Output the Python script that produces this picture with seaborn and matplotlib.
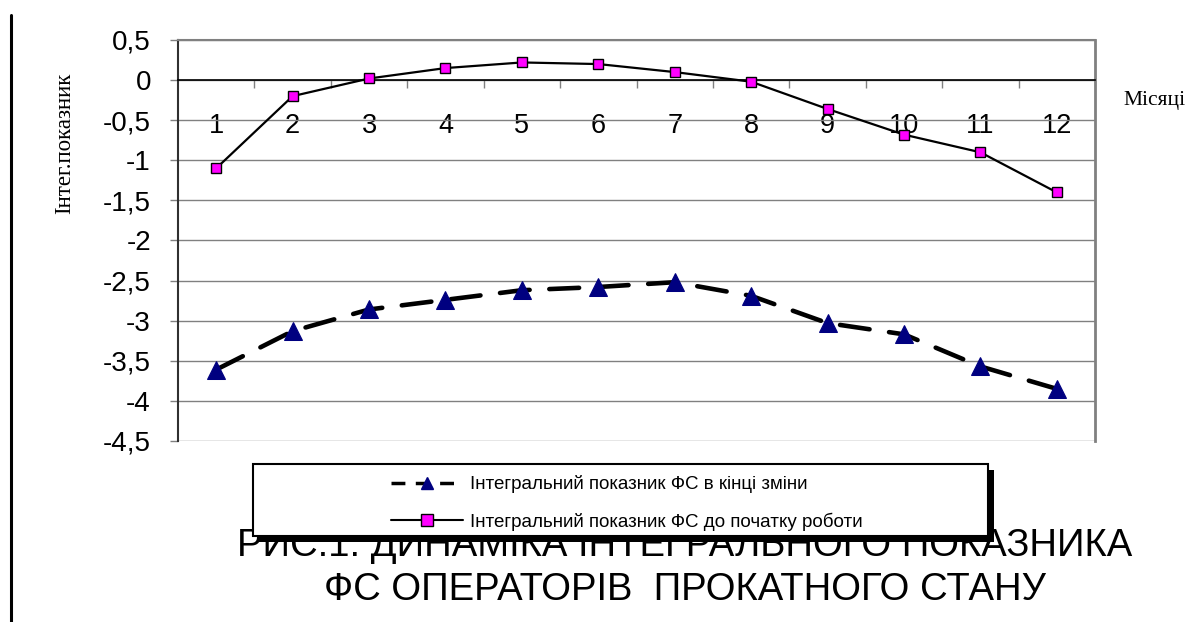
import matplotlib
matplotlib.use("Agg")
import numpy as np
import pandas as pd
import seaborn as sns
import matplotlib.pyplot as plt
from matplotlib.patches import Rectangle
from matplotlib.lines import Line2D

# ---------------- data ----------------
months = list(range(1, 13))
month_labels = [str(m) for m in months]
end_of_shift = [-3.61, -3.13, -2.86, -2.74, -2.62, -2.58, -2.52, -2.69, -3.03, -3.17, -3.57, -3.85]
before_work = [-1.10, -0.20, 0.02, 0.15, 0.22, 0.20, 0.10, -0.02, -0.36, -0.68, -0.90, -1.40]
ytick_values = [0.5, 0, -0.5, -1, -1.5, -2, -2.5, -3, -3.5, -4, -4.5]
ytick_labels = ["0,5", "0", "-0,5", "-1", "-1,5", "-2", "-2,5", "-3", "-3,5", "-4", "-4,5"]
series_end = "Інтегральний показник ФС в кінці зміни"
series_before = "Інтегральний показник ФС до початку роботи"
y_label = "Інтег.показник"
x_label = "Місяці"
caption1 = "РИС.1. ДИНАМІКА ІНТЕГРАЛЬНОГО ПОКАЗНИКА"
caption2 = "ФС ОПЕРАТОРІВ  ПРОКАТНОГО СТАНУ"

sns.set_theme(style="white")
plt.rcParams["font.family"] = ["Liberation Sans", "DejaVu Sans"]
plt.rcParams["text.color"] = "black"

W, H = 1203, 622
fig = plt.figure(figsize=(W / 100, H / 100), dpi=100)
fig.patch.set_facecolor("white")
ax = fig.add_axes([178 / W, 1 - 441 / H, (1095 - 178) / W, 401 / H])

df = pd.DataFrame({"month": months, "end": end_of_shift, "before": before_work})

sns.lineplot(data=df, x="month", y="end", ax=ax, color="black", lw=3.3,
             linestyle=(0, (6.5, 4.3)), dash_capstyle="round",
             marker="^", markersize=13, markerfacecolor="#000080",
             markeredgecolor="#000080", zorder=3, legend=False)
sns.lineplot(data=df, x="month", y="before", ax=ax, color="black", lw=1.6,
             marker="s", markersize=7.5, markerfacecolor="#FF00FF",
             markeredgecolor="black", markeredgewidth=1, zorder=4, legend=False)

ax.set_xlim(0.5, 12.5)
ax.set_ylim(-4.5, 0.5)
ax.set_xlabel("")
ax.set_ylabel("")
ax.set_yticks(ytick_values)
ax.set_yticklabels(ytick_labels)
ax.set_xticks(months)
ax.set_xticklabels(month_labels)
ax.set_xticks(np.arange(1.5, 12, 1), minor=True)

ax.tick_params(axis="x", which="major", bottom=True, length=0, pad=24, labelsize=19.5, labelcolor="black")
ax.tick_params(axis="x", which="minor", bottom=True, length=6, width=1, color="#808080", direction="out")
ax.tick_params(axis="y", which="major", left=True, length=6, width=1, color="#808080",
               direction="out", pad=13.5, labelsize=20, labelcolor="black")

ax.grid(axis="y", color="#808080", lw=1)
ax.grid(axis="x", visible=False)
ax.set_axisbelow(True)

ax.spines["bottom"].set_position(("data", 0))
ax.spines["bottom"].set_color("black")
ax.spines["bottom"].set_linewidth(1.2)
ax.spines["top"].set_color("#808080")
ax.spines["top"].set_linewidth(1.5)
ax.spines["right"].set_color("#808080")
ax.spines["right"].set_linewidth(2)
ax.spines["left"].set_color("#303030")
ax.spines["left"].set_linewidth(1.5)

# axis titles
fig.text(65 / W, 1 - 143 / H, y_label, rotation=90, family="Liberation Serif",
         fontsize=16.5, ha="center", va="center", color="black")
fig.text(1154 / W, 1 - 100 / H, x_label, family="Liberation Serif",
         fontsize=15.5, ha="center", va="center", color="black")

# caption (behind legend box)
fig.text(685 / W, 1 - 546 / H, caption1, ha="center", va="center", fontsize=27.5,
         zorder=1, color="black")
fig.text(685 / W, 1 - 590 / H, caption2, ha="center", va="center", fontsize=27.5,
         zorder=1, color="black")

# legend box with shadow
fig.add_artist(Rectangle((259 / W, 1 - 542 / H), 735 / W, 72 / H, transform=fig.transFigure,
                         facecolor="black", edgecolor="none", zorder=4))
fig.add_artist(Rectangle((253 / W, 1 - 536 / H), 735 / W, 72 / H, transform=fig.transFigure,
                         facecolor="white", edgecolor="black", lw=1.5, zorder=5))

h_end = Line2D([], [], color="black", lw=2.5, linestyle=(0, (4, 3)),
               marker="^", markersize=9, markerfacecolor="#000080", markeredgecolor="#000080")
h_before = Line2D([], [], color="black", lw=1.5, marker="s", markersize=8,
                  markerfacecolor="#FF00FF", markeredgecolor="black")
leg = fig.legend([h_end, h_before], [series_end, series_before], loc="center",
                 bbox_to_anchor=(627 / W, 1 - 503 / H), frameon=False, fontsize=13.5,
                 handlelength=3.8, handletextpad=0.4, labelspacing=1.0)
for t in leg.get_texts():
    t.set_color("black")
leg.set_zorder(6)

# page border line at left
fig.add_artist(Line2D([10.5 / W, 10.5 / W], [0, 1 - 15 / H], transform=fig.transFigure,
                      color="black", lw=2.2))

fig.savefig("out.png", dpi=100, facecolor="white")
